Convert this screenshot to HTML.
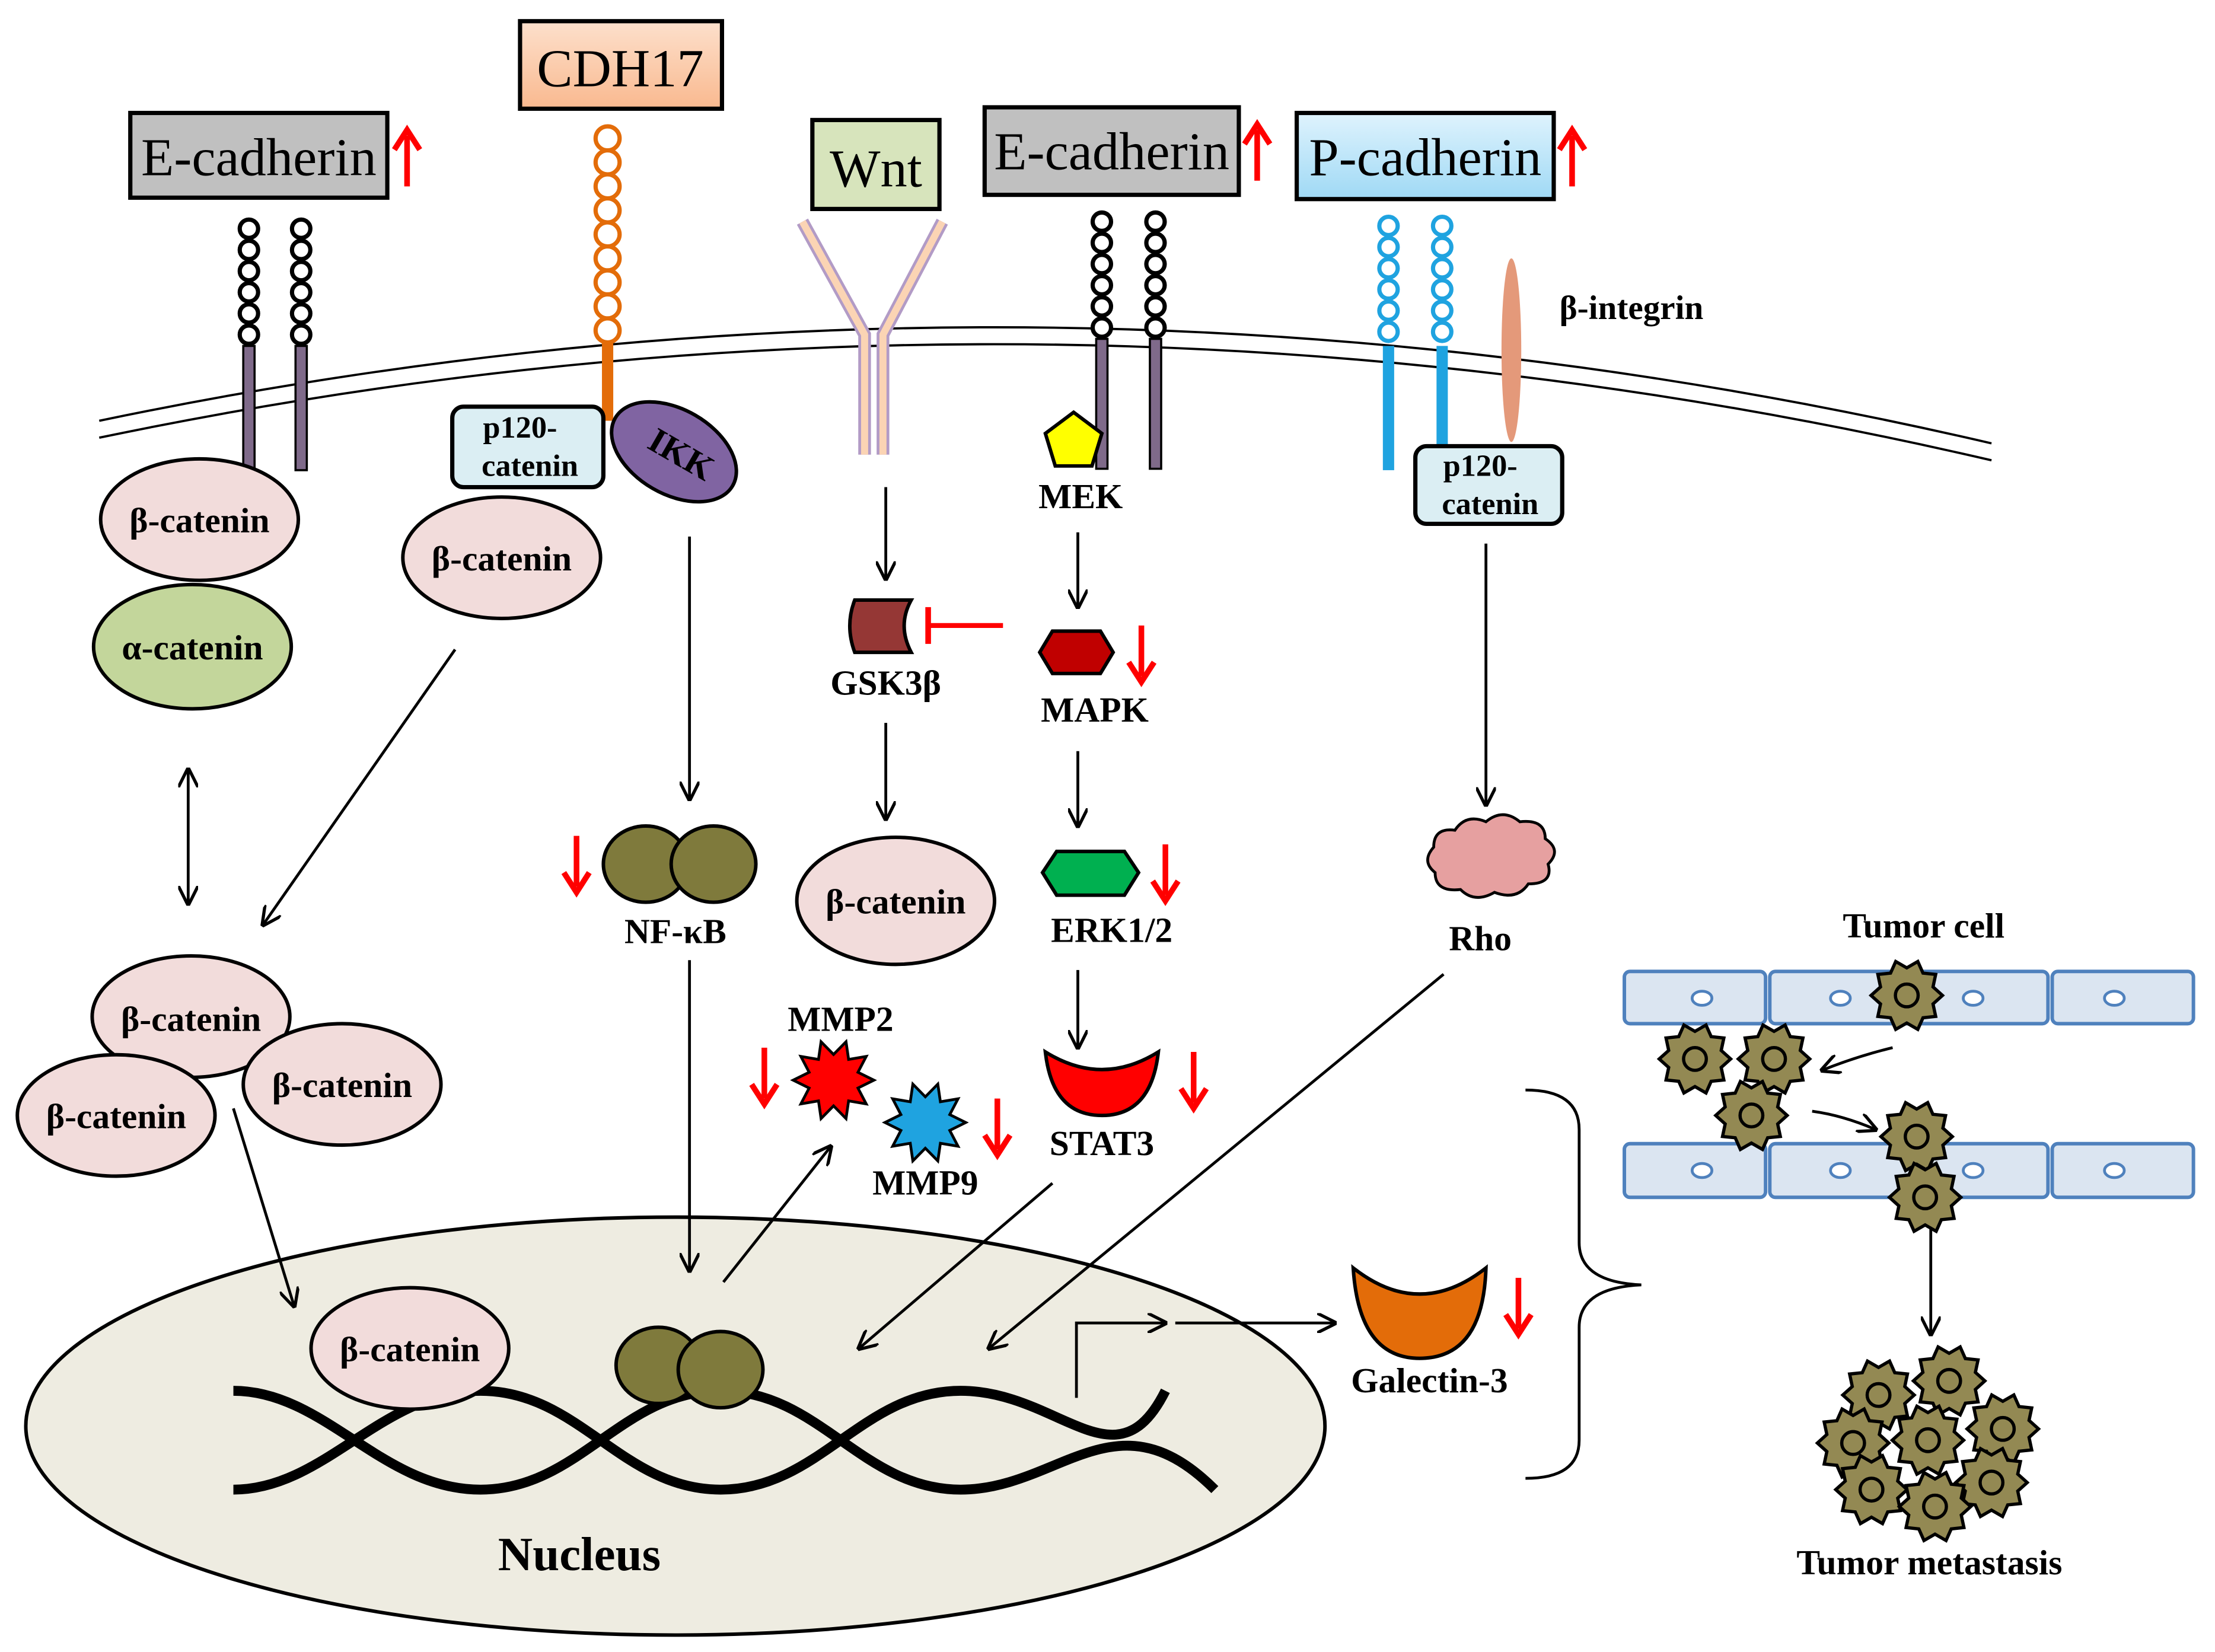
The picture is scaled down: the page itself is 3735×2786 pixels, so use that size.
<!DOCTYPE html>
<html><head><meta charset="utf-8">
<style>
html,body{margin:0;padding:0;background:#fff;}
svg{display:block;}
text{font-family:"Liberation Serif",serif;}
.lb{font-weight:bold;font-size:25px;text-anchor:middle;}
.bx{font-size:38px;text-anchor:middle;}
</style></head>
<body>
<svg width="3735" height="2786" viewBox="0 0 1568 1170" xmlns="http://www.w3.org/2000/svg">
<defs>
<marker id="a" viewBox="0 0 10 10" refX="9" refY="5" markerWidth="14" markerHeight="14" orient="auto-start-reverse" markerUnits="userSpaceOnUse">
<path d="M0,0 L10,5 L0,10" fill="none" stroke="#000" stroke-width="1.6"/>
</marker>
<g id="ra"><line x1="0" y1="40" x2="0" y2="4" stroke="#f00" stroke-width="4"/><path d="M-9,14 L0,0 L9,14" fill="none" stroke="#f00" stroke-width="4"/></g>
<g id="da"><line x1="0" y1="0" x2="0" y2="36" stroke="#f00" stroke-width="4"/><path d="M-9,26 L0,40 L9,26" fill="none" stroke="#f00" stroke-width="4"/></g>
<polygon id="st" points="22,0 16.17,5.25 17.8,12.93 9.99,13.75 6.8,20.92 0,17 -6.8,20.92 -9.99,13.75 -17.8,12.93 -16.17,5.25 -22,0 -16.17,-5.25 -17.8,-12.93 -9.99,-13.75 -6.8,-20.92 0,-17 6.8,-20.92 9.99,-13.75 17.8,-12.93 16.17,-5.25"/>
<polygon id="sp" points="22,0 13.3,4.3 17.8,12.93 8.2,11.3 6.8,20.92 0,14 -6.8,20.92 -8.2,11.3 -17.8,12.93 -13.3,4.3 -22,0 -13.3,-4.3 -17.8,-12.93 -8.2,-11.3 -6.8,-20.92 0,-14 6.8,-20.92 8.2,-11.3 17.8,-12.93 13.3,-4.3"/>
<g id="tc0"><use href="#st" fill="#938953" stroke="#000" stroke-width="2"/><circle r="7" fill="none" stroke="#000" stroke-width="2"/></g>
<g id="tc"><use href="#tc0" transform="scale(1.15)"/></g>
<g id="ch"><circle cx="0" cy="0" r="6.5" fill="#fff" stroke="#000" stroke-width="3"/><circle cx="0" cy="15" r="6.5" fill="#fff" stroke="#000" stroke-width="3"/><circle cx="0" cy="30" r="6.5" fill="#fff" stroke="#000" stroke-width="3"/><circle cx="0" cy="45" r="6.5" fill="#fff" stroke="#000" stroke-width="3"/><circle cx="0" cy="60" r="6.5" fill="#fff" stroke="#000" stroke-width="3"/><circle cx="0" cy="75" r="6.5" fill="#fff" stroke="#000" stroke-width="3"/></g>
<g id="chb"><circle cx="0" cy="0" r="6.5" fill="#fff" stroke="#1fa3e0" stroke-width="3"/><circle cx="0" cy="15" r="6.5" fill="#fff" stroke="#1fa3e0" stroke-width="3"/><circle cx="0" cy="30" r="6.5" fill="#fff" stroke="#1fa3e0" stroke-width="3"/><circle cx="0" cy="45" r="6.5" fill="#fff" stroke="#1fa3e0" stroke-width="3"/><circle cx="0" cy="60" r="6.5" fill="#fff" stroke="#1fa3e0" stroke-width="3"/><circle cx="0" cy="75" r="6.5" fill="#fff" stroke="#1fa3e0" stroke-width="3"/></g>
<linearGradient id="gp" x1="0" y1="0" x2="0" y2="1"><stop offset="0" stop-color="#fde0cc"/><stop offset="1" stop-color="#f9b98f"/></linearGradient>
<linearGradient id="gb" x1="0" y1="0" x2="0" y2="1"><stop offset="0" stop-color="#dff3fd"/><stop offset="1" stop-color="#9fd9f5"/></linearGradient>
</defs>

<path d="M70,310 Q740,170 1410,326" fill="none" stroke="#000" stroke-width="1.6"/>
<path d="M70,298 Q740,158 1410,314" fill="none" stroke="#000" stroke-width="1.6"/>

<ellipse cx="478" cy="1010" rx="460" ry="148" fill="#eeece1" stroke="#000" stroke-width="2.5"/>
<path d="M165,985 C230,985 270,1055 340,1055 C410,1055 440,985 510,985 C580,985 610,1055 680,1055 C750,1055 790,985 860,1055" fill="none" stroke="#000" stroke-width="7"/>
<path d="M165,1055 C230,1055 270,985 340,985 C410,985 440,1055 510,1055 C580,1055 610,985 680,985 C750,985 790,1055 825,985" fill="none" stroke="#000" stroke-width="7"/>
<text x="410" y="1112" class="lb" style="font-size:34px">Nucleus</text>

<rect x="92" y="80" width="182" height="60" fill="#c0c0c0" stroke="#000" stroke-width="3"/>
<text x="183" y="124" class="bx">E-cadherin</text>
<use href="#ra" x="288" y="92"/>
<rect x="368" y="15" width="143" height="62" fill="url(#gp)" stroke="#000" stroke-width="3"/>
<text x="439" y="61" class="bx">CDH17</text>
<rect x="575" y="85" width="90" height="63" fill="#d7e4bc" stroke="#000" stroke-width="3"/>
<text x="620" y="132" class="bx">Wnt</text>
<rect x="697" y="76" width="180" height="62" fill="#c0c0c0" stroke="#000" stroke-width="3"/>
<text x="787" y="120" class="bx">E-cadherin</text>
<use href="#ra" x="890" y="88"/>
<rect x="918" y="80" width="182" height="61" fill="url(#gb)" stroke="#000" stroke-width="3"/>
<text x="1009" y="124" class="bx">P-cadherin</text>
<use href="#ra" x="1113" y="92"/>

<rect x="172" y="245" width="8" height="88" fill="#7f6a8a" stroke="#000" stroke-width="1.5"/>
<rect x="209" y="245" width="8" height="88" fill="#7f6a8a" stroke="#000" stroke-width="1.5"/>
<use href="#ch" x="176" y="162"/><use href="#ch" x="213" y="162"/>
<rect x="776" y="240" width="8" height="92" fill="#7f6a8a" stroke="#000" stroke-width="1.5"/>
<rect x="814" y="240" width="8" height="92" fill="#7f6a8a" stroke="#000" stroke-width="1.5"/>
<use href="#ch" x="780" y="157"/><use href="#ch" x="818" y="157"/>
<rect x="979" y="245" width="8" height="88" fill="#1fa3e0"/>
<rect x="1017" y="245" width="8" height="88" fill="#1fa3e0"/>
<use href="#chb" x="983" y="160"/><use href="#chb" x="1021" y="160"/>
<ellipse cx="1070" cy="248" rx="7" ry="65" fill="#e4997a"/>
<text x="1155" y="226" class="lb" style="font-size:24px">β-integrin</text>

<rect x="426" y="240" width="8" height="58" fill="#e36c09"/>
<g fill="#fff" stroke="#e36c09" stroke-width="3">
<circle cx="430" cy="98" r="8.5"/><circle cx="430" cy="115" r="8.5"/><circle cx="430" cy="132" r="8.5"/><circle cx="430" cy="149" r="8.5"/><circle cx="430" cy="166" r="8.5"/><circle cx="430" cy="183" r="8.5"/><circle cx="430" cy="200" r="8.5"/><circle cx="430" cy="217" r="8.5"/><circle cx="430" cy="234" r="8.5"/>
</g>

<g stroke="#b29bc6" stroke-width="9" fill="none">
<path d="M568,157 L612,237 L612,322"/><path d="M667,157 L625,237 L625,322"/>
</g>
<g stroke="#fbd4b4" stroke-width="5" fill="none">
<path d="M568,157 L612,237 L612,322"/><path d="M667,157 L625,237 L625,322"/>
</g>

<rect x="320" y="288" width="107" height="57" rx="8" fill="#dbeef3" stroke="#000" stroke-width="3"/>
<text x="368" y="310" class="lb" style="font-size:22px">p120-</text>
<text x="375" y="337" class="lb" style="font-size:22px">catenin</text>
<ellipse cx="477" cy="320" rx="48" ry="30" transform="rotate(30 477 320)" fill="#8064a2" stroke="#000" stroke-width="2.5"/>
<text x="482" y="330" class="lb" transform="rotate(30 482 322)">IKK</text>

<g fill="#f2dcdb" stroke="#000" stroke-width="2.5">
<ellipse cx="141" cy="368" rx="70" ry="43"/>
<ellipse cx="355" cy="395" rx="70" ry="43"/>
<ellipse cx="135" cy="720" rx="70" ry="43"/>
<ellipse cx="242" cy="768" rx="70" ry="43"/>
<ellipse cx="82" cy="790" rx="70" ry="43"/>
<ellipse cx="634" cy="638" rx="70" ry="45"/>
<ellipse cx="290" cy="955" rx="70" ry="43"/>
</g>
<ellipse cx="136" cy="458" rx="70" ry="44" fill="#c3d69b" stroke="#000" stroke-width="2.5"/>
<text x="141" y="377" class="lb">β-catenin</text>
<text x="136" y="467" class="lb">α-catenin</text>
<text x="355" y="404" class="lb">β-catenin</text>
<text x="135" y="730" class="lb">β-catenin</text>
<text x="242" y="777" class="lb">β-catenin</text>
<text x="82" y="799" class="lb">β-catenin</text>
<text x="634" y="647" class="lb">β-catenin</text>
<text x="290" y="964" class="lb">β-catenin</text>

<g stroke="#000" stroke-width="2" fill="none" marker-end="url(#a)">
<line x1="133" y1="545" x2="133" y2="640" marker-start="url(#a)"/>
<line x1="322" y1="460" x2="186" y2="655"/>
<line x1="165" y1="785" x2="208" y2="925"/>
<line x1="488" y1="380" x2="488" y2="566"/>
<line x1="488" y1="680" x2="488" y2="900"/>
<line x1="512" y1="908" x2="588" y2="812"/>
<line x1="627" y1="345" x2="627" y2="410"/>
<line x1="627" y1="512" x2="627" y2="580"/>
<line x1="763" y1="377" x2="763" y2="430"/>
<line x1="763" y1="532" x2="763" y2="585"/>
<line x1="763" y1="687" x2="763" y2="742"/>
<line x1="745" y1="838" x2="608" y2="955"/>
<line x1="1052" y1="385" x2="1052" y2="570"/>
<line x1="1022" y1="690" x2="700" y2="955"/>
<path d="M762,990 L762,937 L825,937"/>
<line x1="832" y1="937" x2="945" y2="937"/>
<line x1="1367" y1="870" x2="1367" y2="945"/>
<path d="M1340,742 Q1315,748 1290,758"/>
<path d="M1283,787 Q1305,790 1328,800"/>
</g>

<g fill="#7f7a3c" stroke="#000" stroke-width="2.5">
<ellipse cx="457" cy="612" rx="30" ry="27"/><ellipse cx="505" cy="612" rx="30" ry="27"/>
<ellipse cx="466" cy="967" rx="30" ry="27"/><ellipse cx="510" cy="970" rx="30" ry="27"/>
</g>
<text x="478" y="668" class="lb">NF-κB</text>
<use href="#da" x="408" y="592"/>

<use href="#sp" transform="translate(590,765) scale(1.3)" fill="#f00" stroke="#000" stroke-width="1.5"/>
<text x="595" y="730" class="lb">MMP2</text>
<use href="#da" x="541" y="742"/>
<use href="#sp" transform="translate(655,795) scale(1.3)" fill="#1fa3e0" stroke="#000" stroke-width="1.5"/>
<text x="655" y="846" class="lb">MMP9</text>
<use href="#da" x="706" y="778"/>

<path d="M605,425 L645,425 Q635,443 645,462 L605,462 Q598,443 605,425 Z" fill="#953735" stroke="#000" stroke-width="2.5"/>
<text x="627" y="492" class="lb">GSK3β</text>
<line x1="710" y1="443" x2="657" y2="443" stroke="#f00" stroke-width="3.5"/>
<line x1="657" y1="430" x2="657" y2="456" stroke="#f00" stroke-width="4"/>

<polygon points="760,292 780,307 773,330 747,330 740,307" fill="#ff0" stroke="#000" stroke-width="2.5"/>
<text x="765" y="360" class="lb">MEK</text>
<polygon points="745,447 779,447 788,462 779,477 745,477 736,462" fill="#c00000" stroke="#000" stroke-width="2.5"/>
<text x="775" y="511" class="lb">MAPK</text>
<use href="#da" x="808" y="443"/>
<polygon points="748,603 796,603 806,618 796,634 748,634 738,618" fill="#00b050" stroke="#000" stroke-width="2.5"/>
<text x="787" y="667" class="lb">ERK1/2</text>
<use href="#da" x="825" y="598"/>
<path d="M740,745 Q780,770 820,745 Q815,790 780,790 Q745,790 740,745 Z" fill="#f00" stroke="#000" stroke-width="2.5"/>
<text x="780" y="818" class="lb">STAT3</text>
<use href="#da" x="845" y="745"/>

<rect x="1002" y="316" width="104" height="55" rx="8" fill="#dbeef3" stroke="#000" stroke-width="3"/>
<text x="1048" y="337" class="lb" style="font-size:22px">p120-</text>
<text x="1055" y="364" class="lb" style="font-size:22px">catenin</text>
<path d="M1015,600 q0,-14 15,-12 q8,-12 22,-6 q12,-10 24,0 q18,-2 18,12 q12,8 2,18 q4,14 -14,14 q-8,12 -24,6 q-14,8 -24,-2 q-18,2 -18,-12 q-10,-8 -1,-18 Z" fill="#e6a0a0" stroke="#000" stroke-width="2"/>
<text x="1048" y="673" class="lb">Rho</text>

<path d="M958,898 Q1005,935 1052,898 Q1050,962 1005,962 Q962,962 958,898 Z" fill="#e36c09" stroke="#000" stroke-width="2.5"/>
<text x="1012" y="986" class="lb">Galectin-3</text>
<use href="#da" x="1075" y="905"/>

<path d="M1080,772 Q1118,772 1118,800 L1118,880 Q1118,908 1162,910 Q1118,912 1118,940 L1118,1020 Q1118,1047 1080,1047" fill="none" stroke="#000" stroke-width="2"/>

<g fill="#dbe5f1" stroke="#4f81bd" stroke-width="2.5">
<rect x="1150" y="688" width="100" height="37" rx="4"/><rect x="1253" y="688" width="197" height="37" rx="4"/><rect x="1453" y="688" width="100" height="37" rx="4"/>
<rect x="1150" y="810" width="100" height="38" rx="4"/><rect x="1253" y="810" width="197" height="38" rx="4"/><rect x="1453" y="810" width="100" height="38" rx="4"/>
</g>
<g fill="#fff" stroke="#4f81bd" stroke-width="2">
<ellipse cx="1205" cy="707" rx="7" ry="5"/><ellipse cx="1303" cy="707" rx="7" ry="5"/><ellipse cx="1397" cy="707" rx="7" ry="5"/><ellipse cx="1497" cy="707" rx="7" ry="5"/>
<ellipse cx="1205" cy="829" rx="7" ry="5"/><ellipse cx="1303" cy="829" rx="7" ry="5"/><ellipse cx="1397" cy="829" rx="7" ry="5"/><ellipse cx="1497" cy="829" rx="7" ry="5"/>
</g>
<use href="#tc" x="1350" y="705"/>
<use href="#tc" x="1200" y="750"/>
<use href="#tc" x="1256" y="750"/>
<use href="#tc" x="1240" y="790"/>
<use href="#tc" x="1357" y="805"/>
<use href="#tc" x="1363" y="848"/>
<use href="#tc" x="1330" y="988"/>
<use href="#tc" x="1380" y="978"/>
<use href="#tc" x="1312" y="1022"/>
<use href="#tc" x="1418" y="1012"/>
<use href="#tc" x="1365" y="1020"/>
<use href="#tc" x="1325" y="1055"/>
<use href="#tc" x="1410" y="1050"/>
<use href="#tc" x="1370" y="1067"/>
<text x="1362" y="664" class="lb">Tumor cell</text>
<text x="1366" y="1115" class="lb">Tumor metastasis</text>
</svg>
</body></html>
